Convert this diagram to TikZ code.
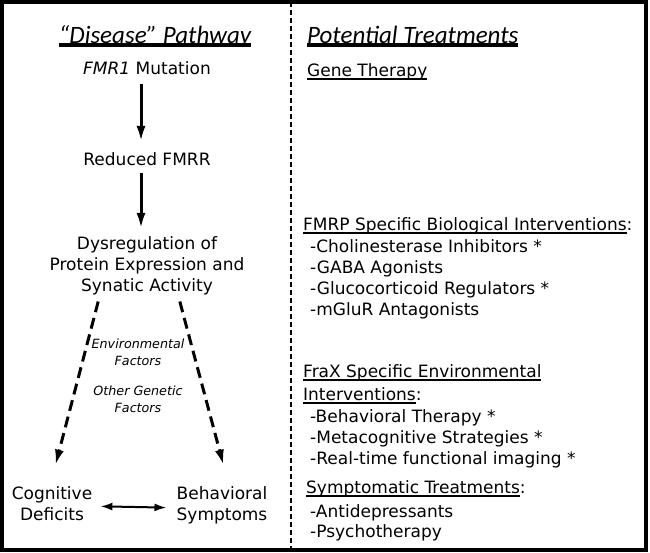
\documentclass[tikz,border=0pt]{standalone}
\usepackage{fontspec}
\setmainfont{DejaVu Sans}
\newfontfamily\hdrfont{Carlito}
\usetikzlibrary{arrows.meta}
\newcommand\undl[2][1.8pt]{\setbox0=\hbox{#2}\rlap{\rule[-3.5pt]{\wd0}{#1}}\box0}

\begin{document}
\begin{tikzpicture}[x=1pt,y=-1pt,
    txt/.style={inner sep=0pt,font=\fontsize{17}{21}\selectfont,align=center},
    hdr/.style={inner sep=0pt,anchor=base,font=\hdrfont\itshape\fontsize{25}{30}\selectfont},
    note/.style={inner sep=0pt,font=\itshape\fontsize{12.7}{17}\selectfont,align=center},
    lst/.style={inner sep=0pt,anchor=base west,font=\fontsize{17}{21}\selectfont,align=left},
    flow/.style={-{Latex[length=16pt,width=9pt]},line width=3pt},
    envflow/.style={flow,dash pattern=on 11pt off 6pt}]
    \useasboundingbox (0,0) rectangle (650,552);
    \draw[line width=3.5pt] (2,2) rectangle (646,550);
    \draw[line width=1.3pt,dash pattern=on 5pt off 3pt] (291,2) -- (291,550);

    \node[hdr] (dhdr) at (155,43) {\undl[3.5pt]{“Disease” Pathway}};
    \node[txt,anchor=base] (mut) at (147,74) {\textit{FMR1} Mutation};
    \node[txt,anchor=base] (fmrr) at (147,165) {Reduced FMRR};
    \node[txt,anchor=base] (dysreg) at (147,291) {Dysregulation of\\Protein Expression and\\Synatic Activity};
    \node[note,anchor=base] (envf) at (138,365) {Environmental\\Factors};
    \node[note,anchor=base] (othf) at (138,412) {Other Genetic\\Factors};
    \node[txt,anchor=base] (cog) at (52,520) {Cognitive\\Deficits};
    \node[txt,anchor=base] (beh) at (222,520) {Behavioral\\Symptoms};

    \draw[flow,shorten <=10pt,shorten >=10pt] ([xshift=-6pt]mut.south) -- ([xshift=-6pt]fmrr.north);
    \draw[flow,shorten <=8pt,shorten >=7pt] ([xshift=-6pt]fmrr.south) -- ([xshift=-6pt]dysreg.north);
    \draw[envflow,shorten <=7pt,shorten >=21pt] ([xshift=-47pt]dysreg.south) -- ([xshift=-2pt]cog.north);
    \draw[envflow,shorten <=7pt,shorten >=21pt] ([xshift=31pt]dysreg.south) -- ([xshift=7pt]beh.north);
    \draw[{Latex[length=12pt,width=8pt]}-{Latex[length=12pt,width=8pt]},line width=2pt,shorten <=8pt,shorten >=10pt] ([yshift=-3pt]cog.east) -- ([yshift=-3pt]beh.west);

    \node[hdr,anchor=base west] (pot) at (307,43) {\undl[3.5pt]{Potential Treatments}};
    \node[lst] (gene) at (307,76) {\undl{Gene Therapy}};
    \node[lst] (fmrp) at (303,230) {\undl{FMRP Specific Biological Interventions}:};
    \node[lst] (biolist) at (310,315) {-Cholinesterase Inhibitors *\\-GABA Agonists\\-Glucocorticoid Regulators *\\-mGluR Antagonists};
    \node[lst,font=\fontsize{17}{23}\selectfont] (frax) at (303,400) {\undl{FraX Specific Environmental}\\\undl{Interventions}:};
    \node[lst] (envlist) at (310,464) {-Behavioral Therapy *\\-Metacognitive Strategies *\\-Real-time functional imaging *};
    \node[lst] (sym) at (306,493) {\undl{Symptomatic Treatments}:};
    \node[lst,font=\fontsize{17}{20}\selectfont] (symlist) at (310,537) {-Antidepressants\\-Psychotherapy};
\end{tikzpicture}
\end{document}
